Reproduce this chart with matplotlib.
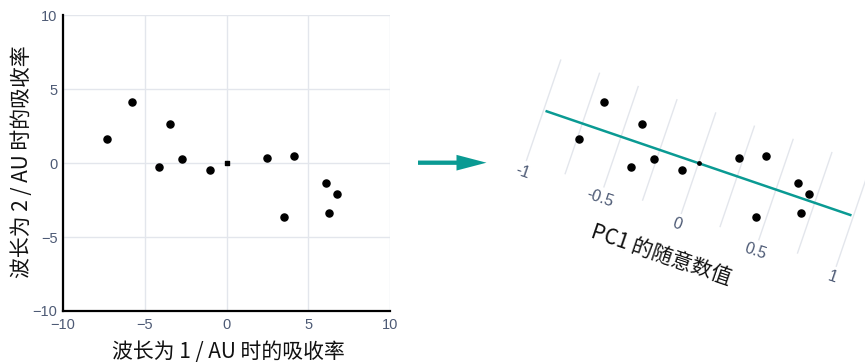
import numpy as np
import matplotlib
matplotlib.use("Agg")
import matplotlib.pyplot as plt
from matplotlib.patches import FancyArrow

plt.rcParams['font.family'] = ['Liberation Sans', 'Noto Sans CJK SC', 'DejaVu Sans']

# Absorbance readings at two wavelengths (centred)
abs_w1 = [-7.3, -5.75, -3.45, -4.1, -2.75, -1.0, 2.45, 4.1, 6.1, 6.75, 6.25, 3.5]
abs_w2 = [1.65, 4.15, 2.65, -0.25, 0.25, -0.45, 0.35, 0.5, -1.35, -2.1, -3.4, -3.65]
centre = [0.0, 0.0]

axis_ticks = [-10, -5, 0, 5, 10]
pc1_grid = [-1.0, -0.75, -0.5, -0.25, 0.0, 0.25, 0.5, 0.75, 1.0]
pc1_labels = [-1, -0.5, 0, 0.5, 1]
pc1_span = [-0.98, 0.98]

xlabel = "波长为 1 / AU 时的吸收率"
ylabel = "波长为 2 / AU 时的吸收率"
pc1_title = "PC1 的随意数值"

TEAL = "#0a9a93"
GRID = "#e3e6ec"
TICK = "#4d5a75"
CJK = ['Noto Sans CJK SC', 'DejaVu Sans']

W, H = 865, 363
fig = plt.figure(figsize=(W / 100, H / 100), dpi=100)

# ---- left panel: raw absorbance scatter ----
x0, x1, ytop, ybot = 63, 390, 15.3, 311
ax = fig.add_axes([x0 / W, 1 - ybot / H, (x1 - x0) / W, (ybot - ytop) / H])
ax.set_xlim(-10, 10)
ax.set_ylim(-10, 10)
ax.set_xticks(axis_ticks)
ax.set_yticks(axis_ticks)
ax.grid(True, color=GRID, lw=1.0)
ax.set_axisbelow(True)
for s in ["top", "right"]:
    ax.spines[s].set_visible(False)
for s in ["left", "bottom"]:
    ax.spines[s].set_linewidth(1.6)
    ax.spines[s].set_color("black")
ax.tick_params(length=0, labelsize=10.5, labelcolor=TICK)
ax.tick_params(axis="x", pad=5)
ax.tick_params(axis="y", pad=4)
ax.scatter(abs_w1, abs_w2, s=26, color="black", zorder=3, clip_on=False)
ax.scatter(centre[0], centre[1], s=12, marker="s", color="black", zorder=3)
ax.set_xlabel(xlabel, family=CJK, fontsize=15, color="#111111")
ax.set_ylabel(ylabel, family=CJK, fontsize=15, color="#111111")
ax.xaxis.set_label_coords(0.506, -0.139)
ax.yaxis.set_label_coords(-0.125, 0.506)
ax.xaxis.label.set_verticalalignment("center")
ax.yaxis.label.set_verticalalignment("center")

# ---- right panel: same points with the rotated PC1 axis ----
shift = 472
axr = fig.add_axes([(x0 + shift) / W, 1 - ybot / H, (x1 - x0) / W, (ybot - ytop) / H])
axr.set_xlim(-10, 10)
axr.set_ylim(-10, 10)
axr.axis("off")

sx = (x1 - x0) / 20.0  # pixels per data unit
sy = (ybot - ytop) / 20.0
theta = np.deg2rad(18.85)  # PC1 tilt below horizontal
unit_px = 163.7            # pixels per PC1 unit
u = np.array([np.cos(theta), -np.sin(theta)])
n = np.array([-np.sin(theta), -np.cos(theta)])


def pc_point(t, p=0.0):
    v = t * unit_px * u + p * n
    return centre[0] + v[0] / sx, centre[1] + v[1] / sy


for g in pc1_grid:
    a = pc_point(g, -53)
    b = pc_point(g, 53)
    axr.plot([a[0], b[0]], [a[1], b[1]], color=GRID, lw=1.0, zorder=1, clip_on=False)

a = pc_point(pc1_span[0])
b = pc_point(pc1_span[1])
axr.plot([a[0], b[0]], [a[1], b[1]], color=TEAL, lw=1.8, zorder=2, clip_on=False)

axr.scatter(abs_w1, abs_w2, s=26, color="black", zorder=3, clip_on=False)
axr.scatter(centre[0], centre[1], s=6, color="black", zorder=3)

rot = -np.rad2deg(theta)
for t in pc1_labels:
    px, py = pc_point(t, 65)
    axr.text(px, py, f"{t:g}", rotation=rot, rotation_mode="anchor",
             ha="center", va="center", fontsize=11.5, color=TICK, clip_on=False)
px, py = pc_point(-0.035, 99)
axr.text(px, py, pc1_title, rotation=rot, rotation_mode="anchor",
         ha="center", va="center", fontsize=15, color="#111111", family=CJK, clip_on=False)

# ---- arrow between the panels ----
ov = fig.add_axes([0, 0, 1, 1])
ov.set_xlim(0, W)
ov.set_ylim(H, 0)
ov.axis("off")
ov.add_patch(FancyArrow(418, 162.7, 68.5, 0, width=4.3, head_width=15.7, head_length=30,
                        length_includes_head=True, color=TEAL, lw=0))

fig.savefig("out.png", dpi=100)
